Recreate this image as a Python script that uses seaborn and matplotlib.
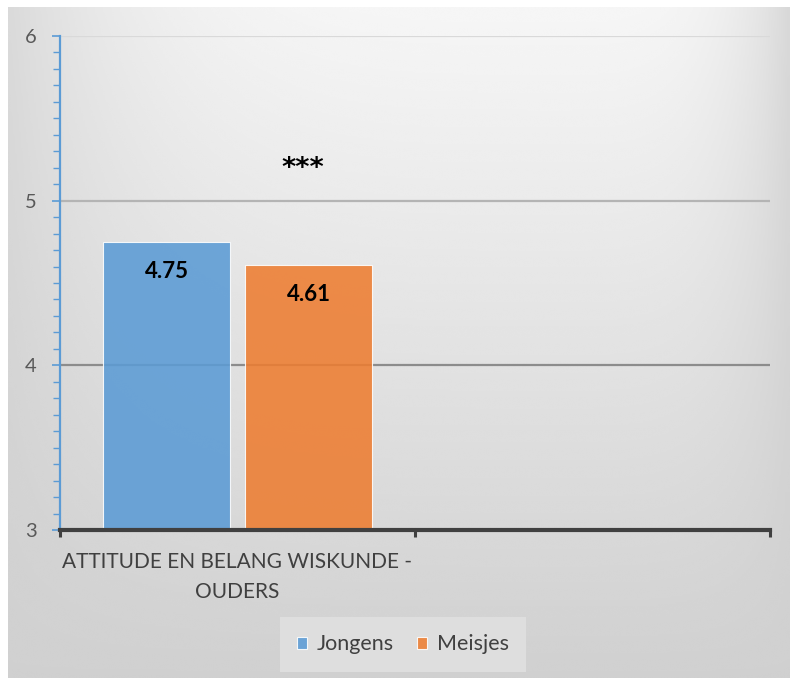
import numpy as np
import pandas as pd
import matplotlib
matplotlib.use("Agg")
import matplotlib.pyplot as plt
import matplotlib.ticker as mticker
import seaborn as sns

# data
categories = ["ATTITUDE EN BELANG WISKUNDE -\nOUDERS", ""]
groups = ["Jongens", "Meisjes"]
values = [4.75, 4.61]
value_labels = ["4.75", "4.61"]
signif_label = "***"
signif_pos = (0.185, 5.19)
y_ticks = [3, 4, 5, 6]

df = pd.DataFrame({
    "categorie": [categories[0]] * len(groups),
    "groep": groups,
    "score": values,
})

sns.set_theme(style="white")
plt.rcParams['font.family'] = ['Lato', 'DejaVu Sans']

W, H = 790, 678
fig = plt.figure(figsize=(W / 100, H / 100), dpi=100)
fig.patch.set_facecolor("white")

# achtergrond met verloop (zoals Excel)
bg = fig.add_axes([8 / W, 0, (W - 8) / W, (H - 7) / H])
xx, yy = np.meshgrid(np.linspace(8, W, 400), np.linspace(7, H, 340))
ty = (yy - 7) / (H - 7)
ex = np.where(xx < 560, ((560 - xx) / 560) ** 4, ((xx - 560) / 230) ** 4)
shade = 246 - 38 * ty - 30 * ex * (1 - ty)
shade = np.clip(shade, 0, 255) / 255
bg.imshow(shade, cmap="gray", vmin=0, vmax=1, aspect="auto",
          extent=[0, 1, 0, 1], origin="upper", interpolation="bicubic")
bg.set_axis_off()

ax = fig.add_axes([60 / W, 148 / H, 710 / W, 494 / H])
ax.set_facecolor("none")

sns.barplot(data=df, x="categorie", y="score", hue="groep",
            order=categories, hue_order=groups,
            palette=["#5b9bd5", "#ed7d31"], saturation=1,
            width=0.8, gap=0.1,
            alpha=0.88, edgecolor="white", linewidth=0.8,
            errorbar=None, ax=ax, zorder=2)

ax.set_ylim(3, 6)
ax.set_xlim(-0.5, len(categories) - 0.5)

# rasterlijnen
for yv, col in zip([4, 5, 6], ["#8c8c8c", "#b4b4b4", "#d9d9d9"]):
    ax.axhline(yv, color=col, linewidth=1.6, zorder=1)

# waardelabels in de staven
for bar, lab in zip(ax.patches, value_labels):
    ax.annotate(lab, (bar.get_x() + bar.get_width() / 2, bar.get_height()),
                xytext=(0, -30), textcoords="offset pixels",
                ha="center", va="center", fontsize=16,
                fontweight="bold", color="black", zorder=5)

ax.text(signif_pos[0], signif_pos[1], signif_label, ha="center", va="center",
        fontsize=19.5, fontweight="bold", color="black",
        family=["DejaVu Sans"])

# assen
sns.despine(ax=ax, top=True, right=True)
ax.spines["left"].set_color("#5b9bd5")
ax.spines["left"].set_linewidth(1.6)
ax.spines["bottom"].set_color("#404040")
ax.spines["bottom"].set_linewidth(3)
ax.spines["bottom"].set_zorder(4)

ax.set_yticks(y_ticks)
ax.yaxis.set_minor_locator(mticker.MultipleLocator(0.1))
ax.tick_params(axis="y", which="major", direction="out", length=6,
               width=1.2, color="#5b9bd5", labelsize=14.5, labelcolor="#595959",
               pad=11, left=True)
ax.tick_params(axis="y", which="minor", direction="out", length=5,
               width=1.0, color="#5b9bd5", left=True)

# categorie-labels als tekst, zodat de regelafstand klopt
ax.set_xticks(range(len(categories)), labels=[""] * len(categories))
ax.xaxis.set_minor_locator(mticker.FixedLocator(
    [i - 0.5 for i in range(len(categories) + 1)]))
ax.tick_params(axis="x", which="major", length=0)
ax.tick_params(axis="x", which="minor", direction="out", length=5,
               width=2.2, color="#404040", bottom=True)
for i, cat in enumerate(categories):
    ax.annotate(cat, xy=(i, 0), xycoords=("data", "axes fraction"),
                xytext=(0, -22), textcoords="offset pixels",
                ha="center", va="top", fontsize=15, color="#404040",
                linespacing=1.62, annotation_clip=False)

ax.set_xlabel("")
ax.set_ylabel("")
ax.grid(False)

# legenda onderaan
handles, labels = ax.get_legend_handles_labels()
ax.get_legend().remove()
leg = fig.legend(handles, labels, loc="center",
                 bbox_to_anchor=(403 / W, 33.5 / H), ncol=2,
                 frameon=True, fancybox=False, framealpha=1,
                 facecolor="#dedede", edgecolor="none",
                 fontsize=15.5, handlelength=0.48, handleheight=0.48,
                 handletextpad=0.45, columnspacing=1.05,
                 borderpad=0.55, borderaxespad=0)
leg.get_frame().set_boxstyle("square", pad=0.25)
for t in leg.get_texts():
    t.set_color("#404040")
for h in leg.legend_handles:
    h.set_alpha(0.88)

fig.savefig("out.png", dpi=100, facecolor=fig.get_facecolor())
